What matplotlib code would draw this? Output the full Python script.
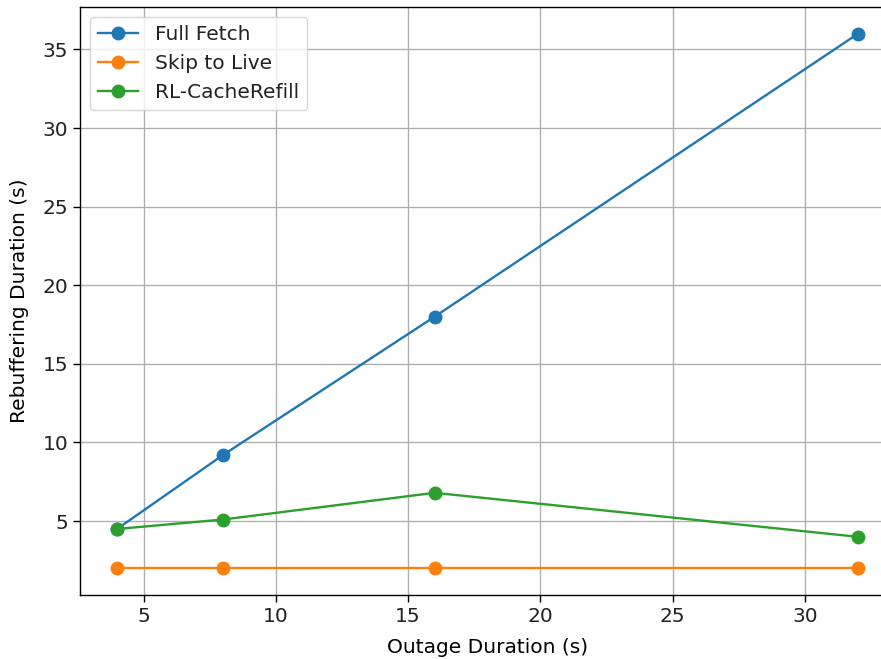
import numpy as np
import matplotlib
matplotlib.use('Agg')
import matplotlib.pyplot as plt

outage = [4, 8, 16, 32]
full_fetch = [4.5, 9.2, 18.0, 36.0]
skip_live = [2.0, 2.0, 2.0, 2.0]
rl_refill = [4.5, 5.1, 6.8, 4.0]

s = 1.45
plt.rcParams['font.size'] = 10 * s
plt.rcParams['text.color'] = '#222222'
plt.rcParams['xtick.labelcolor'] = '#222222'
plt.rcParams['ytick.labelcolor'] = '#222222'

fig = plt.figure(figsize=(8.81, 6.59), dpi=100)
ax = fig.add_axes([80/881, 1 - 595/659, 815/881, 588/659])

ax.plot(outage, full_fetch, marker='o', lw=1.7, ms=9, label='Full Fetch')
ax.plot(outage, skip_live, marker='o', lw=1.7, ms=9, label='Skip to Live')
ax.plot(outage, rl_refill, marker='o', lw=1.7, ms=9, label='RL-CacheRefill')

ax.set_xlabel('Outage Duration (s)', labelpad=9)
ax.set_ylabel('Rebuffering Duration (s)', labelpad=10)
ax.grid(True, lw=1.0)
ax.tick_params(width=1.0, length=5)
for sp in ax.spines.values():
    sp.set_linewidth(1.0)
ax.legend(loc='upper left')

fig.savefig('out.png', dpi=100)
